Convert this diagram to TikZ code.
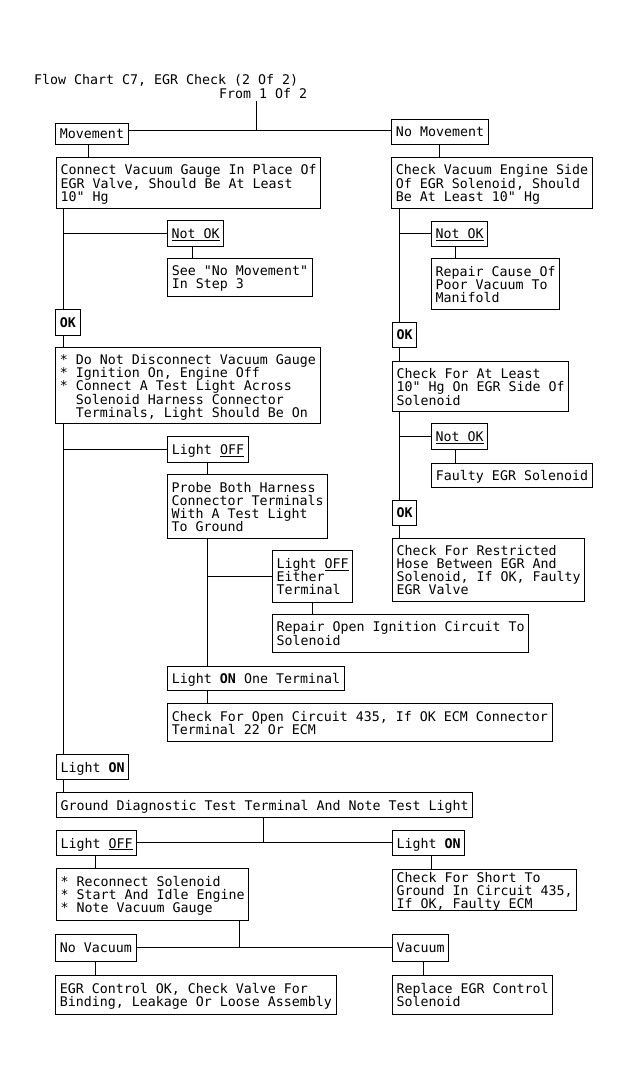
\documentclass[tikz,border=0pt]{standalone}
\usepackage{fontspec}
\newfontfamily\monofam{DejaVu Sans Mono}
\newcommand\boxfont{\monofam\fontsize{13.29pt}{13pt}\selectfont}
\newcommand\ulx[1]{\underline{#1}}
\begin{document}
\begin{tikzpicture}[x=1pt,y=-1pt,
  box/.style={draw, line width=1pt, anchor=north west, inner xsep=4pt, inner ysep=0pt,
    align=left, text depth=0pt, font=\boxfont},
  lbl/.style={inner sep=0pt, anchor=base west, font=\boxfont},
  conn/.style={line width=1pt}]
\path[fill=white] (0,0) rectangle (630,1083);

% title
\node[lbl] (title) at (34,85) {Flow Chart C7, EGR Check (2 Of 2)};
\node[lbl, inner ysep=2pt, text depth=0pt] (from) at (219,99) {From 1 Of 2};

% left column
\node[box, minimum width=73pt, minimum height=21pt] (mov) at (55,123) {Movement};
\node[box, minimum width=263pt, minimum height=51pt] (b1) at (56,157) {Connect Vacuum Gauge In Place Of\\EGR Valve, Should Be At Least\\10" Hg};
\node[box, minimum width=54pt, minimum height=26pt] (notok1) at (167,220) {\ulx{Not OK}};
\node[box, minimum width=145pt, minimum height=38pt] (see) at (167,258) {See "No Movement"\\In Step 3};
\node[box, minimum width=25pt, minimum height=26pt] (ok1) at (55,309) {\textbf{OK}};
\node[box, minimum width=265pt, minimum height=76pt] (b2) at (55,347) {* Do Not Disconnect Vacuum Gauge\\* Ignition On, Engine Off\\* Connect A Test Light Across\\\hspace*{16pt}Solenoid Harness Connector\\\hspace*{16pt}Terminals, Light Should Be On};
\node[box, minimum width=81pt, minimum height=26pt] (lightoff1) at (167,436) {Light \ulx{OFF}};
\node[box, minimum width=160pt, minimum height=64pt] (probe) at (167,474) {Probe Both Harness\\Connector Terminals\\With A Test Light\\To Ground};
\node[box, minimum width=80pt, minimum height=52pt] (lightoffE) at (272,550) {Light \ulx{OFF}\\Either\\Terminal};
\node[box, minimum width=256pt, minimum height=38pt] (repairopen) at (272,614) {Repair Open Ignition Circuit To\\Solenoid};
\node[box, minimum width=177pt, minimum height=24pt] (lightonone) at (167,666) {Light \textbf{ON} One Terminal};
\node[box, minimum width=385pt, minimum height=38pt] (checkopen) at (167,703) {Check For Open Circuit 435, If OK ECM Connector\\Terminal 22 Or ECM};
\node[box, minimum width=72pt, minimum height=25pt] (lighton) at (56,754) {Light \textbf{ON}};
\node[box, minimum width=416pt, minimum height=25pt] (ground) at (56,792) {Ground Diagnostic Test Terminal And Note Test Light};
\node[box, minimum width=80pt, minimum height=25pt] (lightoff2) at (56,830) {Light \ulx{OFF}};
\node[box, minimum width=71pt, minimum height=25pt] (lighton2) at (392,830) {Light \textbf{ON}};
\node[box, minimum width=192pt, minimum height=52pt] (reconnect) at (56,868) {* Reconnect Solenoid\\* Start And Idle Engine\\* Note Vacuum Gauge};
\node[box, minimum width=182pt, minimum height=41pt] (checkshort) at (392,869) {Check For Short To\\Ground In Circuit 435,\\If OK, Faulty ECM};
\node[box, minimum width=81pt, minimum height=27pt] (novac) at (55,934) {No Vacuum};
\node[box, minimum width=56pt, minimum height=27pt] (vac) at (392,934) {Vacuum};
\node[box, minimum width=281pt, minimum height=39pt] (egrok) at (55,975) {EGR Control OK, Check Valve For\\Binding, Leakage Or Loose Assembly};
\node[box, minimum width=160pt, minimum height=39pt] (replace) at (392,975) {Replace EGR Control\\Solenoid};

% right column
\node[box, minimum width=97pt, minimum height=25pt] (nomov) at (391,119) {No Movement};
\node[box, minimum width=201pt, minimum height=51pt] (rb1) at (391,157) {Check Vacuum Engine Side\\Of EGR Solenoid, Should\\Be At Least 10" Hg};
\node[box, minimum width=56pt, minimum height=25pt] (notok2) at (431,221) {\ulx{Not OK}};
\node[box, minimum width=128pt, minimum height=51pt] (repaircause) at (431,258) {Repair Cause Of\\Poor Vacuum To\\Manifold};
\node[box, minimum width=24pt, minimum height=25pt] (ok2) at (392,322) {\textbf{OK}};
\node[box, minimum width=176pt, minimum height=50pt] (rb2) at (392,361) {Check For At Least\\10" Hg On EGR Side Of\\Solenoid};
\node[box, minimum width=56pt, minimum height=26pt] (notok3) at (431,423) {\ulx{Not OK}};
\node[box, minimum width=161pt, minimum height=24pt] (faulty) at (431,463) {Faulty EGR Solenoid};
\node[box, minimum width=24pt, minimum height=25pt] (ok3) at (392,500) {\textbf{OK}};
\node[box, minimum width=192pt, minimum height=63pt] (restricted) at (392,538) {Check For Restricted\\Hose Between EGR And\\Solenoid, If OK, Faulty\\EGR Valve};

% connector reference coordinates
\coordinate (j0) at (256,131);
\coordinate (j2) at (263,842);
\coordinate (j3) at (239,947);
\coordinate (sp) at (63,0);
\coordinate (sr) at (399,0);
\coordinate (x88) at (88,0);
\coordinate (x192) at (192,0);
\coordinate (x207) at (207,0);
\coordinate (x312) at (312,0);
\coordinate (x95) at (95,0);
\coordinate (x431) at (431,0);
\coordinate (x423) at (423,0);
\coordinate (x439) at (439,0);
\coordinate (x455) at (455,0);

% top split
\draw[conn] (j0 |- from.south) -- (j0);
\draw[conn] (mov.east |- j0) -- (nomov.west |- j0);

% left column connectors
\draw[conn] (x88 |- mov.south) -- (x88 |- b1.north);
\draw[conn] (sp |- b1.south) -- (sp |- ok1.north);
\draw[conn] (sp |- ok1.south) -- (sp |- b2.north);
\draw[conn] (sp |- b2.south) -- (sp |- lighton.north);
\draw[conn] (sp |- lighton.south) -- (sp |- ground.north);
\draw[conn] (sp |- notok1.west) -- (notok1.west);
\draw[conn] (x192 |- notok1.south) -- (x192 |- see.north);
\draw[conn] (sp |- lightoff1.west) -- (lightoff1.west);
\draw[conn] (x207 |- lightoff1.south) -- (x207 |- probe.north);
\draw[conn] (x207 |- probe.south) -- (x207 |- lightonone.north);
\draw[conn] (x207 |- lightoffE.west) -- (lightoffE.west);
\draw[conn] (x312 |- lightoffE.south) -- (x312 |- repairopen.north);
\draw[conn] (x207 |- lightonone.south) -- (x207 |- checkopen.north);

\draw[conn] (j2 |- ground.south) -- (j2);
\draw[conn] (lightoff2.east |- j2) -- (lighton2.west |- j2);
\draw[conn] (x95 |- lightoff2.south) -- (x95 |- reconnect.north);
\draw[conn] (x431 |- lighton2.south) -- (x431 |- checkshort.north);
\draw[conn] (j3 |- reconnect.south) -- (j3);
\draw[conn] (novac.east |- j3) -- (vac.west |- j3);
\draw[conn] (x95 |- novac.south) -- (x95 |- egrok.north);
\draw[conn] (x423 |- vac.south) -- (x423 |- replace.north);

% right column connectors
\draw[conn] (x439 |- nomov.south) -- (x439 |- rb1.north);
\draw[conn] (sr |- rb1.south) -- (sr |- ok2.north);
\draw[conn] (sr |- ok2.south) -- (sr |- rb2.north);
\draw[conn] (sr |- rb2.south) -- (sr |- ok3.north);
\draw[conn] (sr |- ok3.south) -- (sr |- restricted.north);
\draw[conn] (sr |- notok2.west) -- (notok2.west);
\draw[conn] (x455 |- notok2.south) -- (x455 |- repaircause.north);
\draw[conn] (sr |- notok3.west) -- (notok3.west);
\draw[conn] (x455 |- notok3.south) -- (x455 |- faulty.north);
\end{tikzpicture}
\end{document}
